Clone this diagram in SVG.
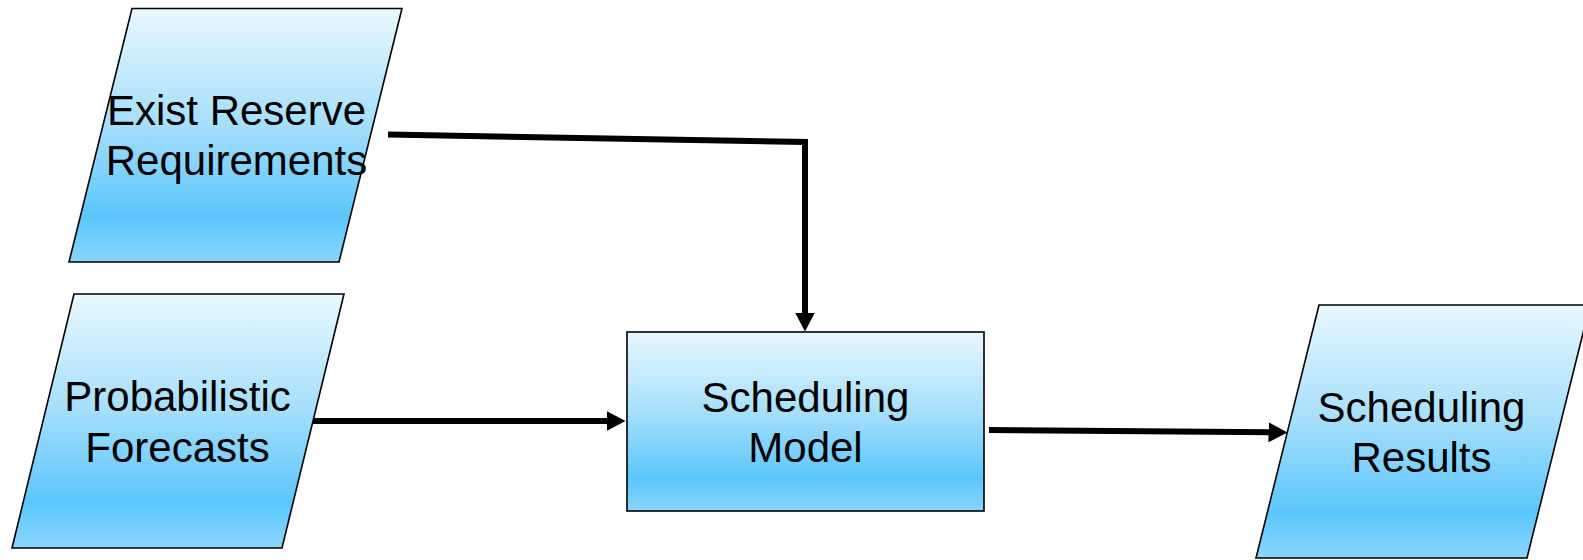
<svg xmlns="http://www.w3.org/2000/svg" width="1583" height="560" viewBox="0 0 1583 560">
  <defs>
    <linearGradient id="fill" x1="0" y1="0" x2="0" y2="1">
      <stop offset="0" stop-color="#e8f8ff"/>
      <stop offset="0.45" stop-color="#a6dffb"/>
      <stop offset="0.82" stop-color="#5bc6fc"/>
      <stop offset="1" stop-color="#8ad6fd"/>
    </linearGradient>
    <marker id="arrow" viewBox="0 0 19 20" markerWidth="19" markerHeight="20" refX="9" refY="10" markerUnits="userSpaceOnUse" orient="auto">
      <path d="M0,0 L19,10 L0,20 z" fill="#000"/>
    </marker>
    <style>
      .shape { fill: url(#fill); stroke: #000; stroke-width: 1.6; stroke-linejoin: miter; }
      .label { font-family: "Liberation Sans", Arial, sans-serif; font-size: 42px; fill: #000; text-anchor: middle; }
      .edge { fill: none; stroke: #000; stroke-width: 6; stroke-linejoin: miter; marker-end: url(#arrow); }
    </style>
  </defs>
  <rect width="1583" height="560" fill="#fff"/>

  <g id="connectors">
    <path class="edge" d="M388,134.5 L805,142 L805,321.5"/>
    <path class="edge" d="M313,421 L615.5,421"/>
    <path class="edge" d="M989,430 L1277.5,432.3"/>
  </g>

  <g id="node-exist-reserve">
    <polygon class="shape" points="132,8.5 402,8.5 339,262 69,262"/>
    <text class="label" x="236.5" y="125.3">Exist Reserve</text>
    <text class="label" x="236.5" y="175.3">Requirements</text>
  </g>

  <g id="node-probabilistic">
    <polygon class="shape" points="74,294 344,294 282,548 12,548"/>
    <text class="label" x="177.5" y="411">Probabilistic</text>
    <text class="label" x="177.5" y="461.5">Forecasts</text>
  </g>

  <g id="node-scheduling-model">
    <rect class="shape" x="627" y="332" width="357" height="179"/>
    <text class="label" x="805.5" y="411.5">Scheduling</text>
    <text class="label" x="805.5" y="461.5">Model</text>
  </g>

  <g id="node-scheduling-results">
    <polygon class="shape" points="1319,305 1590,305 1527,558 1256,558"/>
    <text class="label" x="1421.5" y="421.5">Scheduling</text>
    <text class="label" x="1421.5" y="472">Results</text>
  </g>
</svg>
